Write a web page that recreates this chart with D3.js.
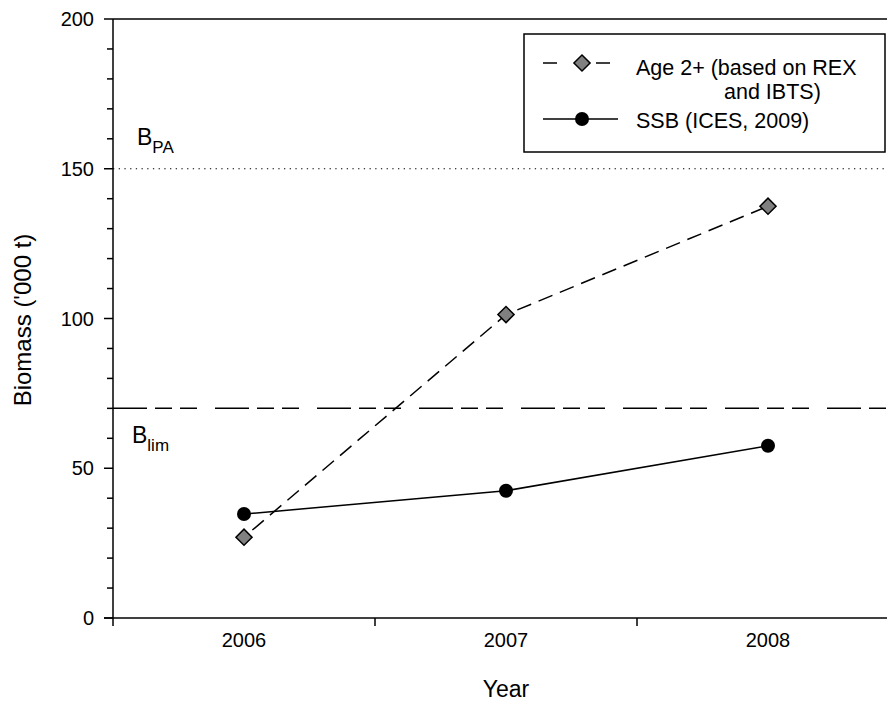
<!DOCTYPE html>
<html>
<head>
<meta charset="utf-8">
<script src="https://cdn.jsdelivr.net/npm/d3@7"></script>
<style>
  html, body { margin: 0; padding: 0; background: #fff; }
  svg { display: block; font-family: "Liberation Sans", Arial, sans-serif; }
</style>
</head>
<body>
<svg id="chart" width="887" height="704"></svg>
<script>
// Survey years and biomass estimates ('000 t)
const years = ["2006", "2007", "2008"];
const age2plus = [27, 101.3, 137.5];   // Age 2+ (based on REX and IBTS)
const ssb = [34.7, 42.5, 57.5];        // SSB (ICES, 2009)
const yTicks = [0, 50, 100, 150, 200];
const yMinorTicks = d3.range(0, 201, 10);
const refPoints = [
  { name: "PA", value: 150 },
  { name: "lim", value: 70 }
];

const svg = d3.select("#chart");
const margin = { left: 113, top: 19, right: 899, bottom: 618 };

const x = d3.scaleBand().domain(years).range([margin.left, margin.right]);
const y = d3.scaleLinear().domain([0, 200]).range([margin.bottom, margin.top]);

// frame top line
svg.append("line")
  .attr("x1", margin.left).attr("x2", margin.right)
  .attr("y1", margin.top).attr("y2", margin.top)
  .attr("stroke", "#000").attr("stroke-width", 1.5);

// reference lines
svg.append("line")
  .attr("x1", margin.left).attr("x2", margin.right)
  .attr("y1", y(refPoints[0].value)).attr("y2", y(refPoints[0].value))
  .attr("stroke", "#000").attr("stroke-width", 1.2)
  .attr("stroke-dasharray", "1.3,4.4");
svg.append("line")
  .attr("x1", margin.left).attr("x2", margin.right)
  .attr("y1", y(refPoints[1].value)).attr("y2", y(refPoints[1].value))
  .attr("stroke", "#000").attr("stroke-width", 1.5)
  .attr("stroke-dasharray", "34,8,17,8,17,18")
  .attr("stroke-dashoffset", 0);

// reference labels
function refLabel(xPos, yPos, sub) {
  const t = svg.append("text").attr("x", xPos).attr("y", yPos)
    .attr("font-size", 23).attr("fill", "#000");
  t.append("tspan").text("B");
  t.append("tspan").attr("font-size", 17).attr("dy", 8).text(sub);
}
refLabel(137, 145, refPoints[0].name);
refLabel(132, 443, refPoints[1].name);

// y axis
const yAxis = svg.append("g").attr("transform", `translate(${margin.left},0)`);
yAxis.append("line").attr("x1", 0).attr("x2", 0)
  .attr("y1", margin.top).attr("y2", margin.bottom)
  .attr("stroke", "#000").attr("stroke-width", 1.5);
yAxis.selectAll("line.minor").data(yMinorTicks.filter(v => v % 50 !== 0)).join("line")
  .attr("class", "minor")
  .attr("x1", -6).attr("x2", 0)
  .attr("y1", d => y(d)).attr("y2", d => y(d))
  .attr("stroke", "#000").attr("stroke-width", 1.5);
yAxis.selectAll("line.major").data(yTicks).join("line")
  .attr("class", "major")
  .attr("x1", -9).attr("x2", 0)
  .attr("y1", d => y(d)).attr("y2", d => y(d))
  .attr("stroke", "#000").attr("stroke-width", 1.5);
yAxis.selectAll("text").data(yTicks).join("text")
  .attr("x", -19).attr("y", d => y(d))
  .attr("dy", "0.36em")
  .attr("text-anchor", "end")
  .attr("font-size", 20)
  .text(d => d);

// x axis
const xAxis = svg.append("g");
xAxis.append("line")
  .attr("x1", margin.left - 9).attr("x2", margin.right)
  .attr("y1", margin.bottom).attr("y2", margin.bottom)
  .attr("stroke", "#000").attr("stroke-width", 1.5);
const bounds = years.map(d => x(d)).concat([x(years[years.length - 1]) + x.bandwidth()]);
xAxis.selectAll("line.tick").data(bounds).join("line")
  .attr("class", "tick")
  .attr("x1", d => d).attr("x2", d => d)
  .attr("y1", margin.bottom).attr("y2", margin.bottom + 8)
  .attr("stroke", "#000").attr("stroke-width", 1.5);
xAxis.selectAll("text").data(years).join("text")
  .attr("x", d => x(d) + x.bandwidth() / 2)
  .attr("y", 647)
  .attr("text-anchor", "middle")
  .attr("font-size", 20)
  .text(d => d);

// axis titles
svg.append("text")
  .attr("x", 506).attr("y", 697)
  .attr("text-anchor", "middle").attr("font-size", 23)
  .text("Year");
svg.append("text")
  .attr("transform", "translate(31,320) rotate(-90)")
  .attr("text-anchor", "middle").attr("font-size", 24)
  .text("Biomass ('000 t)");

const cx = i => x(years[i]) + x.bandwidth() / 2;
const line = d3.line().x((d, i) => cx(i)).y(d => y(d));

// Age 2+ series
svg.append("path").datum(age2plus)
  .attr("d", line)
  .attr("fill", "none").attr("stroke", "#000").attr("stroke-width", 1.5)
  .attr("stroke-dasharray", "15,8")
  .attr("stroke-dashoffset", -11);

// SSB series
svg.append("path").datum(ssb)
  .attr("d", line)
  .attr("fill", "none").attr("stroke", "#000").attr("stroke-width", 1.5);

const diamond = d3.symbol().type(d3.symbolSquare).size(130);
svg.selectAll("path.diamond").data(age2plus).join("path")
  .attr("class", "diamond")
  .attr("d", diamond)
  .attr("transform", (d, i) => `translate(${cx(i)},${y(d)}) rotate(45)`)
  .attr("fill", "#808080").attr("stroke", "#000").attr("stroke-width", 1.5);

svg.selectAll("circle.ssb").data(ssb).join("circle")
  .attr("class", "ssb")
  .attr("cx", (d, i) => cx(i)).attr("cy", d => y(d))
  .attr("r", 7).attr("fill", "#000");

// legend
const lg = svg.append("g");
lg.append("rect")
  .attr("x", 524).attr("y", 34).attr("width", 361).attr("height", 118)
  .attr("fill", "#fff").attr("stroke", "#000").attr("stroke-width", 1.5);
lg.append("line").attr("x1", 543).attr("x2", 610).attr("y1", 63).attr("y2", 63)
  .attr("stroke", "#000").attr("stroke-width", 1.5)
  .attr("stroke-dasharray", "14,39,14");
lg.append("path").attr("d", diamond)
  .attr("transform", "translate(582,63) rotate(45)")
  .attr("fill", "#808080").attr("stroke", "#000").attr("stroke-width", 1.5);
lg.append("line").attr("x1", 543).attr("x2", 618).attr("y1", 119).attr("y2", 119)
  .attr("stroke", "#000").attr("stroke-width", 1.5);
lg.append("circle").attr("cx", 582).attr("cy", 119).attr("r", 7).attr("fill", "#000");
lg.append("text").attr("x", 636).attr("y", 75).attr("font-size", 21.5)
  .text("Age 2+ (based on REX");
lg.append("text").attr("x", 724).attr("y", 99).attr("font-size", 21.5)
  .text("and IBTS)");
lg.append("text").attr("x", 636).attr("y", 128).attr("font-size", 21.5)
  .text("SSB (ICES, 2009)");
</script>
</body>
</html>
